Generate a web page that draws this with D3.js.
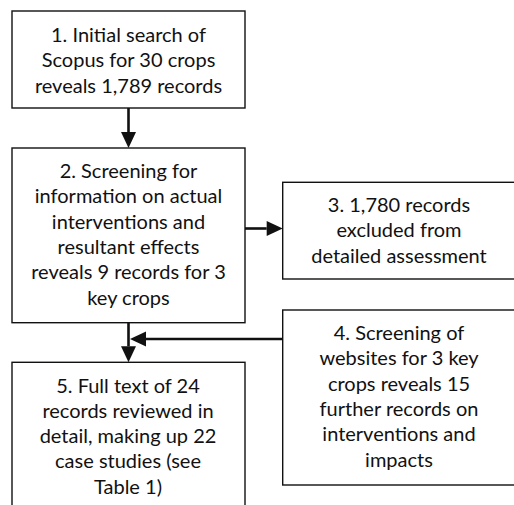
<!DOCTYPE html>
<html>
<head>
<meta charset="utf-8">
<script src="https://cdn.jsdelivr.net/npm/d3@7"></script>
<style>
  html, body { margin: 0; padding: 0; background: #fff; }
  svg { display: block; }
</style>
</head>
<body>
<div id="main-vis"></div>
<script>
// step texts, one array of lines per box
const step1 = ["1. Initial search of", "Scopus for 30 crops", "reveals 1,789 records"]
const step2 = ["2. Screening for", "information on actual", "interventions and", "resultant effects", "reveals 9 records for 3", "key crops"]
const step3 = ["3. 1,780 records", "excluded from", "detailed assessment"]
const step4 = ["4. Screening of", "websites for 3 key", "crops reveals 15", "further records on", "interventions and", "impacts"]
const step5 = ["5. Full text of 24", "records reviewed in", "detail, making up 22", "case studies (see", "Table 1)"]

window.onload = setup

function setup () {
    const width = 514, height = 505
    const lh = 25.3

    // box layout: x0,y0,x1,y1 and first text baseline
    const boxes = [
        {lines: step1, x0: 12, y0: 11, x1: 245, y1: 108, cx: 128.5, b: 42},
        {lines: step2, x0: 12, y0: 148, x1: 245, y1: 322.7, cx: 128.5, b: 178},
        {lines: step3, x0: 282.7, y0: 182.3, x1: 530, y1: 279, cx: 399, b: 212},
        {lines: step4, x0: 282.7, y0: 310, x1: 530, y1: 485, cx: 399, b: 340},
        {lines: step5, x0: 12, y0: 362.3, x1: 245, y1: 530, cx: 128, b: 392.5}
    ]

    const svg = d3.create('svg')
        .attr('width', width)
        .attr('height', height)

    svg.append('rect').attr('width', width).attr('height', height).attr('fill', '#fff')

    const g = svg.selectAll('g.box')
        .data(boxes)
        .join('g')
        .attr('class', 'box')

    g.append('rect')
        .attr('x', d => d.x0)
        .attr('y', d => d.y0)
        .attr('width', d => d.x1 - d.x0)
        .attr('height', d => d.y1 - d.y0)
        .attr('fill', 'none')
        .attr('stroke', '#111')
        .attr('stroke-width', 1.4)

    g.each(function (d) {
        d3.select(this).selectAll('text')
            .data(d.lines)
            .join('text')
            .attr('x', d.cx)
            .attr('y', (t, i) => d.b + i * lh)
            .attr('text-anchor', 'middle')
            .attr('font-family', 'Lato, "Open Sans", sans-serif')
            .attr('font-size', 20)
            .attr('fill', '#111')
            .text(t => t)
    })

    // arrows: from -> to, head at "to"
    const arrows = [
        {x1: 128.5, y1: 108, x2: 128.5, y2: 148},
        {x1: 245, y1: 228.5, x2: 282.7, y2: 228.5},
        {x1: 282.7, y1: 339, x2: 130, y2: 339},
        {x1: 128.5, y1: 322.7, x2: 128.5, y2: 362.3}
    ]
    const headLen = 16, headW = 7.5

    arrows.forEach(a => {
        const dx = a.x2 - a.x1, dy = a.y2 - a.y1
        const len = Math.hypot(dx, dy)
        const ux = dx / len, uy = dy / len
        const bx = a.x2 - ux * headLen, by = a.y2 - uy * headLen
        svg.append('line')
            .attr('x1', a.x1).attr('y1', a.y1)
            .attr('x2', bx).attr('y2', by)
            .attr('stroke', '#111')
            .attr('stroke-width', 2.6)
        svg.append('path')
            .attr('d', d3.line()([
                [a.x2, a.y2],
                [bx - uy * headW, by + ux * headW],
                [bx + uy * headW, by - ux * headW]
            ]) + 'Z')
            .attr('fill', '#111')
    })

    d3.select('#main-vis').node().appendChild(svg.node())
}
</script>
</body>
</html>
